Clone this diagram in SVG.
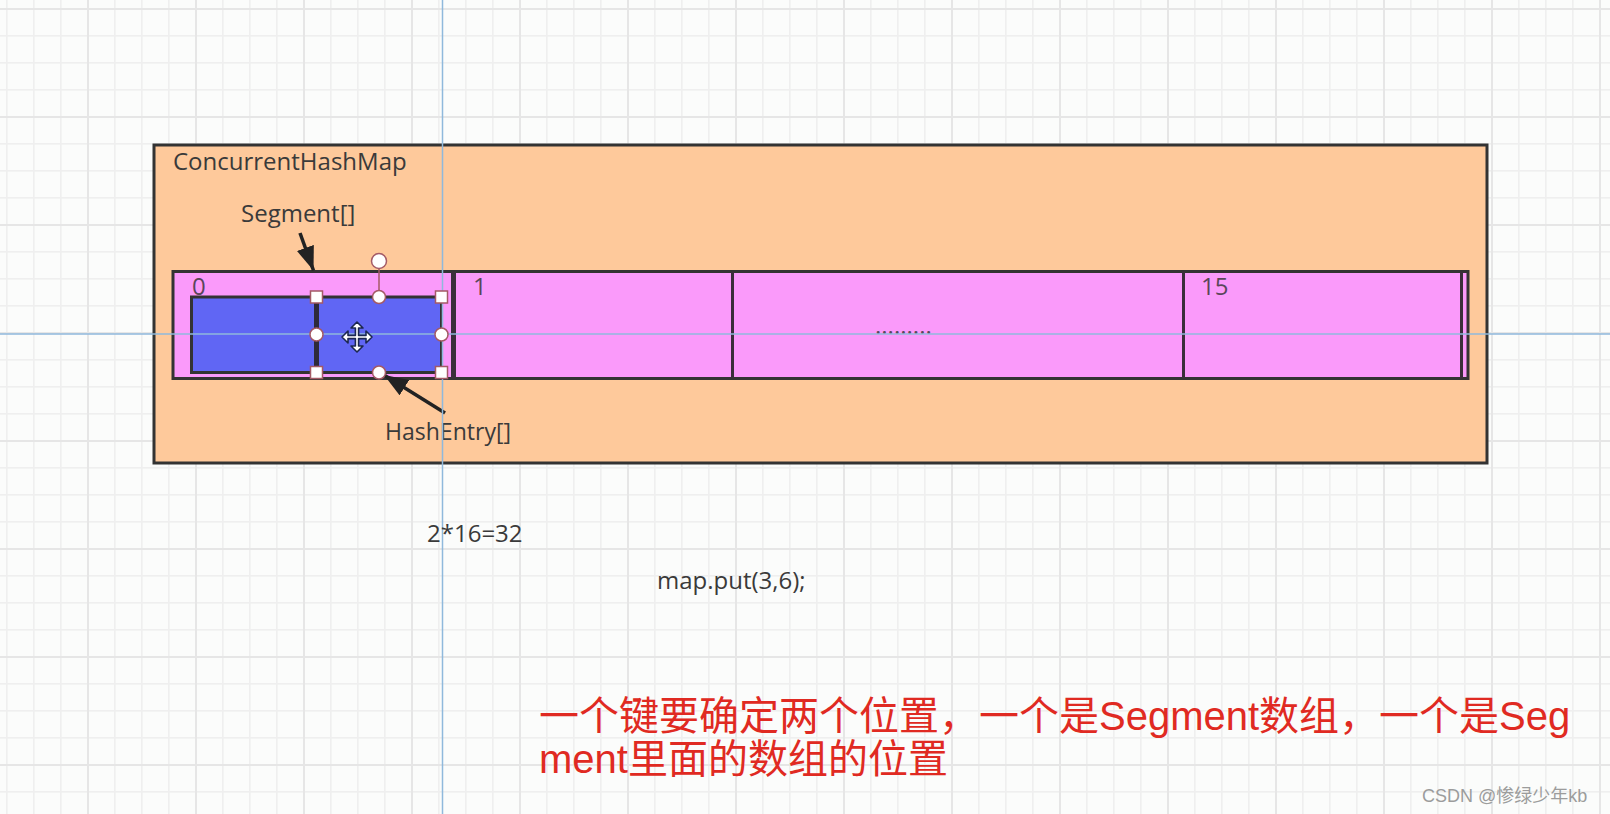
<svg xmlns="http://www.w3.org/2000/svg" width="1610" height="814" viewBox="0 0 1610 814">
  <defs>
    <pattern id="grid" patternUnits="userSpaceOnUse" x="87" y="8" width="108" height="108">
      <rect x="0" y="0" width="108" height="108" fill="#fbfcfb"/>
      <rect x="27" y="0" width="1.6" height="108" fill="#efefef"/>
      <rect x="54" y="0" width="1.6" height="108" fill="#efefef"/>
      <rect x="81" y="0" width="1.6" height="108" fill="#efefef"/>
      <rect x="0" y="27" width="108" height="1.6" fill="#efefef"/>
      <rect x="0" y="54" width="108" height="1.6" fill="#efefef"/>
      <rect x="0" y="81" width="108" height="1.6" fill="#efefef"/>
      <rect x="0" y="0" width="2" height="108" fill="#e6e6e6"/>
      <rect x="0" y="0" width="108" height="2" fill="#e6e6e6"/>
    </pattern>
    <marker id="ah" markerUnits="userSpaceOnUse" markerWidth="26" markerHeight="18" refX="24" refY="9" orient="auto">
      <path d="M0,0 L24,9 L0,18 z" fill="#222"/>
    </marker>
    <style>
      .lbl { font-family: "Open Sans", "Liberation Sans", sans-serif; font-size: 24px; fill: #3a3a3a; }
      .idx { font-family: "Open Sans", "Liberation Sans", sans-serif; font-size: 24px; fill: #5a465a; }
      .red { font-family: "Liberation Sans", "Noto Sans CJK SC", sans-serif; font-size: 40px; fill: #e02a22; }
      .wm { font-family: "Liberation Sans", "Noto Sans CJK SC", sans-serif; font-size: 18px; fill: #9c9c9c; }
      .box { stroke: #333; stroke-width: 3; }
      .div { stroke: #3a2e3a; }
      .guide { stroke: #8fb9dc; stroke-width: 1.5; }
      .hs { fill: #ffffff; stroke: #a45a66; stroke-width: 1.5; }
      .conn { stroke: #222; stroke-width: 3.5; fill: none; marker-end: url(#ah); }
    </style>
  </defs>

  <rect x="0" y="0" width="1610" height="814" fill="url(#grid)"/>

  <g id="concurrentHashMap">
    <rect class="box" x="154" y="145" width="1333" height="318" fill="#fec99b"/>
    <text class="lbl" x="173" y="170">ConcurrentHashMap</text>
  </g>

  <g id="segmentArray">
    <rect class="box" x="173" y="271.5" width="1295" height="107" fill="#fa9afa"/>
    <line class="div" x1="453.5" y1="271.5" x2="453.5" y2="378.5" stroke-width="5"/>
    <line class="div" x1="732.5" y1="271.5" x2="732.5" y2="378.5" stroke-width="3"/>
    <line class="div" x1="1183.5" y1="271.5" x2="1183.5" y2="378.5" stroke-width="3"/>
    <line class="div" x1="1461.5" y1="271.5" x2="1461.5" y2="378.5" stroke-width="3"/>
    <text class="idx" x="192" y="295">0</text>
    <text class="idx" x="473" y="295">1</text>
    <text class="idx" x="875" y="334" font-size="22">.........</text>
    <text class="idx" x="1201" y="295">15</text>
  </g>

  <g id="hashEntryArray">
    <rect class="box" x="191.5" y="297" width="125" height="75.5" fill="#6066f4" stroke="#2e2a3a"/>
    <rect class="box" x="316.5" y="297" width="125" height="75.5" fill="#6066f4" stroke="#2e2a3a"/>
    <line x1="316.5" y1="297" x2="316.5" y2="372.5" stroke="#2e2a3a" stroke-width="5"/>
  </g>

  <g id="segmentLabel">
    <text class="lbl" x="241" y="222">Segment[]</text>
  </g>
  <g id="hashEntryLabel">
    <text class="lbl" x="385" y="440" textLength="126" lengthAdjust="spacingAndGlyphs">HashEntry[]</text>
  </g>

  <g id="connectors">
    <line class="conn" x1="300" y1="233" x2="313.5" y2="270.5"/>
    <line class="conn" x1="445" y1="413" x2="384" y2="375"/>
  </g>

  <g id="guides">
    <line class="guide" x1="442.5" y1="0" x2="442.5" y2="814"/>
    <line class="guide" x1="0" y1="334" x2="1610" y2="334"/>
  </g>

  <g id="selection">
    <line x1="379" y1="268.5" x2="379" y2="290.5" stroke="#a45a66" stroke-width="1.5"/>
    <circle class="hs" cx="379" cy="261" r="7.5"/>
    <rect class="hs" x="310.5" y="291" width="12" height="12"/>
    <rect class="hs" x="435.5" y="291" width="12" height="12"/>
    <rect class="hs" x="310.5" y="366.5" width="12" height="12"/>
    <rect class="hs" x="435.5" y="366.5" width="12" height="12"/>
    <circle class="hs" cx="379" cy="297" r="6.5"/>
    <circle class="hs" cx="379" cy="372.5" r="6.5"/>
    <circle class="hs" cx="316.5" cy="334.5" r="6.5"/>
    <circle class="hs" cx="441.5" cy="334.5" r="6.5"/>
    <path transform="translate(357,337)" d="M0,-15 L6,-9 L1.6,-9 L1.6,-1.6 L9,-1.6 L9,-6 L15,0 L9,6 L9,1.6 L1.6,1.6 L1.6,9 L6,9 L0,15 L-6,9 L-1.6,9 L-1.6,1.6 L-9,1.6 L-9,6 L-15,0 L-9,-6 L-9,-1.6 L-1.6,-1.6 L-1.6,-9 L-6,-9 Z" fill="#ffffff" stroke="#1c2750" stroke-width="1.6" stroke-linejoin="round"/>
  </g>

  <g id="notes">
    <text class="lbl" x="427" y="542">2*16=32</text>
    <text class="lbl" x="657" y="589">map.put(3,6);</text>
    <text class="red" x="539" y="730">一个键要确定两个位置，一个是Segment数组，一个是Seg</text>
    <text class="red" x="539" y="773">ment里面的数组的位置</text>
    <text class="wm" x="1422" y="802">CSDN @惨绿少年kb</text>
  </g>
</svg>
